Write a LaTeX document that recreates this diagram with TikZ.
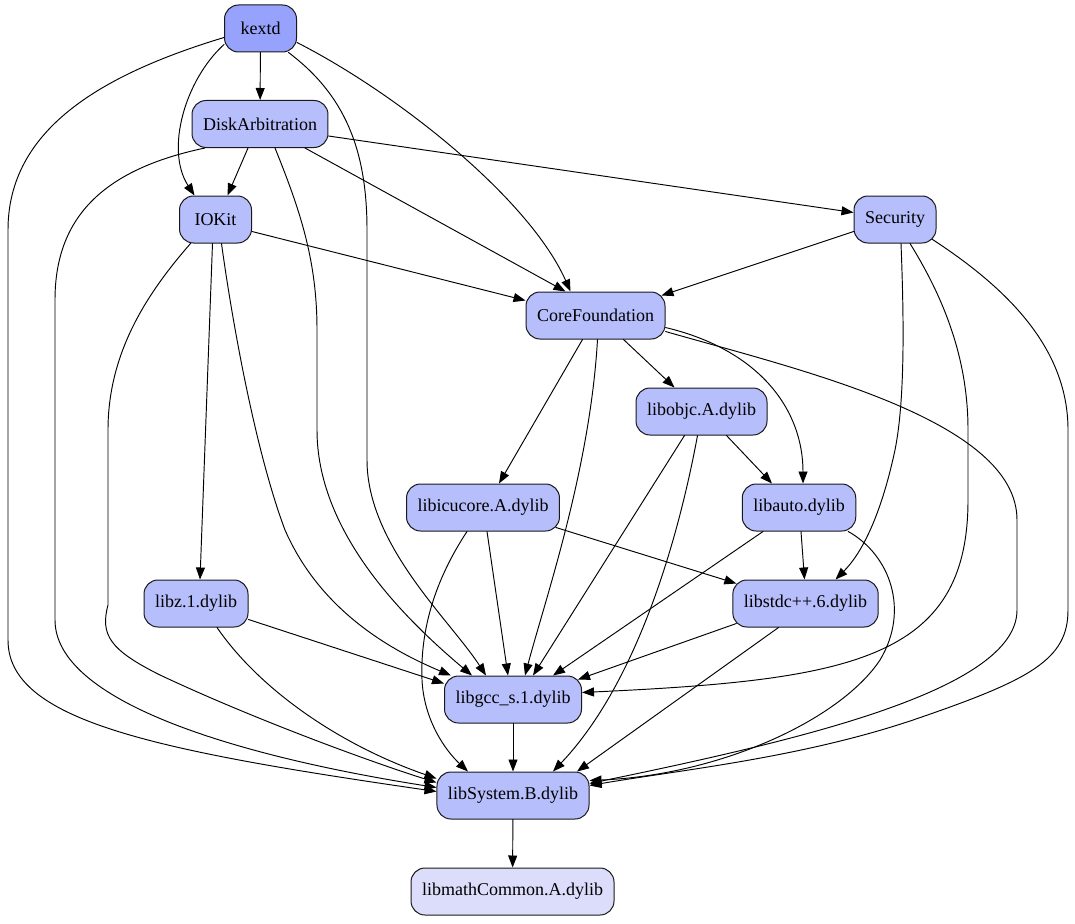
\documentclass[tikz,border=0pt]{standalone}
\usepackage{fontspec}
\setmainfont{Liberation Serif}
\usetikzlibrary{arrows.meta}
\definecolor{topfill}{HTML}{97A2FC}
\definecolor{libfill}{HTML}{B7BEFC}
\definecolor{leaffill}{HTML}{DCDDFA}
\begin{document}
\begin{tikzpicture}[x=1pt, y=-1pt, line join=round, line cap=round, >={Triangle[length=12pt,width=9pt]},
	lib/.style={draw=black!90, line width=1pt, fill=libfill, rounded corners=14pt, minimum height=47pt, minimum width=72pt, inner xsep=11pt, font=\fontsize{18}{20}\selectfont},
	dep/.style={->, line width=0.95pt}]
		\useasboundingbox (0,0) rectangle (1075,923);
		\node[lib, fill=topfill] (kextd) at (260.5,28.5) {kextd};
		\node[lib] (diskarb) at (260,124) {DiskArbitration};
		\node[lib] (iokit) at (215.5,219.5) {IOKit};
		\node[lib] (security) at (895,219.5) {Security};
		\node[lib] (corefound) at (595.5,315.5) {CoreFoundation};
		\node[lib] (libobjc) at (701.5,411.5) {libobjc.A.dylib};
		\node[lib] (libicu) at (483,507.5) {libicucore.A.dylib};
		\node[lib] (libauto) at (799,507.5) {libauto.dylib};
		\node[lib] (libz) at (196,603.5) {libz.1.dylib};
		\node[lib] (libstdcpp) at (805.5,603.5) {libstdc++.6.dylib};
		\node[lib] (libgcc) at (513,699.5) {libgcc\_s.1.dylib};
		\node[lib] (libsystem) at (513,795.5) {libSystem.B.dylib};
		\node[lib, fill=leaffill] (libmath) at (512.5,891.5) {libmathCommon.A.dylib};
		\draw[dep] (kextd) -- (diskarb);
		\draw[dep] ([yshift=-16pt]kextd.west) .. controls (185,80) and (165,150) .. ([xshift=-21pt]iokit.north);
		\draw[dep] ([yshift=-9pt]kextd.west) .. controls (100,75) and (8,130) .. (8,230) -- (8,640) .. controls (8,720) and (150,750) .. ([yshift=4pt]libsystem.west);
		\draw[dep] ([yshift=-14pt]kextd.east) .. controls (400,95) and (530,200) .. ([xshift=-25pt]corefound.north);
		\draw[dep] ([xshift=28pt]kextd.south) .. controls (345,95) and (367,150) .. (367,230) -- (367,460) .. controls (367,545) and (450,620) .. ([xshift=-27pt]libgcc.north);
		\draw[dep] ([xshift=-12pt]diskarb.south) -- ([xshift=12pt]iokit.north);
		\draw[dep] ([yshift=-12pt]diskarb.east) -- ([yshift=7pt]security.west);
		\draw[dep] ([xshift=45pt]diskarb.south) -- ([xshift=-30pt]corefound.north);
		\draw[dep] ([xshift=15pt]diskarb.south) .. controls (300,210) and (317,260) .. (317,330) -- (317,430) .. controls (317,530) and (400,615) .. ([xshift=-41pt]libgcc.north);
		\draw[dep] ([xshift=-55pt]diskarb.south) .. controls (100,170) and (55,220) .. (55,300) -- (55,620) .. controls (55,700) and (230,755) .. ([yshift=8pt]libsystem.west);
		\draw[dep] ([yshift=-12pt]iokit.east) -- ([yshift=15pt]corefound.west);
		\draw[dep] ([xshift=-3pt]iokit.south) -- ([xshift=4pt]libz.north);
		\draw[dep] ([xshift=6pt]iokit.south) .. controls (232,320) and (255,450) .. (285,530) .. controls (320,610) and (390,650) .. ([xshift=-62pt]libgcc.north);
		\draw[dep] ([xshift=-25pt]iokit.south) .. controls (150,290) and (108,350) .. (108,430) -- (108,605) .. controls (100,635) and (110,650) .. (160,675) .. controls (260,722) and (380,765) .. ([yshift=13pt]libsystem.west);
		\draw[dep] ([yshift=-12pt]security.west) -- ([xshift=-4pt,yshift=-4pt]corefound.north east);
		\draw[dep] ([xshift=6pt]security.south) .. controls (904,320) and (905,400) .. (895,450) .. controls (880,520) and (860,555) .. ([xshift=30pt]libstdcpp.north);
		\draw[dep] ([xshift=15pt]security.south) .. controls (945,300) and (968,360) .. (968,430) -- (968,500) .. controls (968,660) and (850,680) .. ([yshift=7pt]libgcc.east);
		\draw[dep] ([xshift=-4pt,yshift=4pt]security.south east) .. controls (1010,290) and (1068,350) .. (1068,430) -- (1068,610) .. controls (1068,660) and (1030,680) .. (913,720) .. controls (800,758) and (680,770) .. ([yshift=10pt]libsystem.east);
		\draw[dep] ([xshift=28pt]corefound.south) -- ([xshift=-27pt]libobjc.north);
		\draw[dep] ([xshift=-13pt]corefound.south) -- ([xshift=16pt]libicu.north);
		\draw[dep] ([xshift=2pt]corefound.south) .. controls (590,470) and (545,600) .. ([xshift=12pt]libgcc.north);
		\draw[dep] ([yshift=-12pt]corefound.east) .. controls (760,350) and (803,410) .. ([xshift=4pt]libauto.north);
		\draw[dep] ([yshift=-16pt]corefound.east) .. controls (800,370) and (1017,420) .. (1017,520) -- (1017,610) .. controls (1017,690) and (800,740) .. ([yshift=12pt]libsystem.east);
		\draw[dep] ([xshift=25pt]libobjc.south) -- ([xshift=-27pt]libauto.north);
		\draw[dep] ([xshift=-17pt]libobjc.south) -- ([xshift=20pt]libgcc.north);
		\draw[dep] ([xshift=-4pt]libobjc.south) .. controls (680,530) and (640,680) .. ([xshift=40pt]libsystem.north);
		\draw[dep] ([xshift=-4pt,yshift=4pt]libicu.south east) -- ([xshift=4pt,yshift=-4pt]libstdcpp.north west);
		\draw[dep] ([xshift=4pt]libicu.south) -- ([xshift=-5pt]libgcc.north);
		\draw[dep] ([xshift=-16pt]libicu.south) .. controls (435,580) and (420,630) .. (422,680) .. controls (424,720) and (445,750) .. ([xshift=-45pt]libsystem.north);
		\draw[dep] ([xshift=2pt]libauto.south) -- ([xshift=-1pt]libstdcpp.north);
		\draw[dep] ([xshift=-36pt]libauto.south) -- ([xshift=40pt]libgcc.north);
		\draw[dep] ([xshift=-8pt]libauto.south east) .. controls (890,555) and (910,610) .. (880,660) .. controls (840,720) and (720,775) .. ([yshift=15pt]libsystem.east);
		\draw[dep] ([yshift=-16pt]libz.east) -- ([yshift=16pt]libgcc.west);
		\draw[dep] ([xshift=21pt]libz.south) .. controls (260,690) and (340,745) .. ([yshift=17pt]libsystem.west);
		\draw[dep] ([xshift=4pt,yshift=4pt]libstdcpp.south west) -- ([xshift=-4pt,yshift=-4pt]libgcc.north east);
		\draw[dep] ([xshift=-27pt]libstdcpp.south) -- ([xshift=64pt]libsystem.north);
		\draw[dep] (libgcc) -- (libsystem);
		\draw[dep] (libsystem) -- (libmath);
\end{tikzpicture}
\end{document}
